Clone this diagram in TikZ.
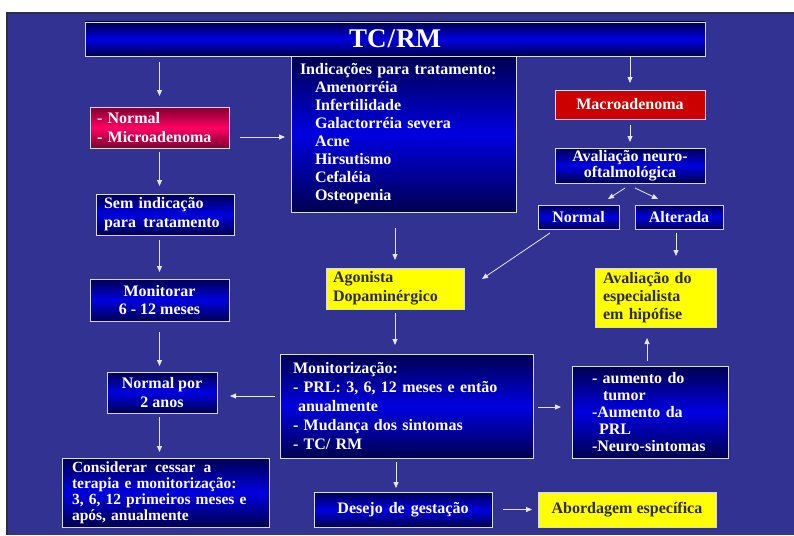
\documentclass[tikz,border=0pt]{standalone}
\usepackage{fontspec}
\setmainfont{Liberation Serif}
\usetikzlibrary{arrows.meta,calc}
\definecolor{slide}{RGB}{50,50,146}
\definecolor{slideedge}{RGB}{45,45,60}
\definecolor{navy}{RGB}{0,0,80}
\definecolor{royal}{RGB}{0,0,225}
\definecolor{wine}{RGB}{125,0,45}
\definecolor{rose}{RGB}{255,0,100}
\definecolor{alert}{RGB}{204,0,0}
\definecolor{lemon}{RGB}{255,255,0}
\definecolor{ink}{RGB}{45,45,45}
\definecolor{rim}{RGB}{215,215,230}
\definecolor{wire}{RGB}{230,230,240}
\newcommand{\fsz}[2]{\fontsize{#1}{#2}\selectfont\bfseries}
\begin{document}
\begin{tikzpicture}[x=1pt,y=-1pt,
  card/.style={draw=rim, line width=0.8pt, inner sep=0pt, outer sep=0pt, text=white},
  bluecard/.style={card, top color=navy, bottom color=navy, middle color=royal},
  pinkcard/.style={card, top color=wine, bottom color=wine, middle color=rose},
  redcard/.style={card, fill=alert},
  yellowcard/.style={card, fill=lemon, text=ink},
  dims/.style 2 args={minimum width=#1pt, minimum height=#2pt},
  arr/.style={draw=wire, line width=0.8pt, -{Triangle[length=6pt,width=5pt]}},
]
% slide background
\path[use as bounding box] (0,0) rectangle (794,535);
\fill[white] (0,0) rectangle (794,535);
\fill[slide] (7,13) rectangle (794,535);
\draw[slideedge, line width=1.5pt] (7,535) -- (7,13) -- (794,13);

% boxes
\node[bluecard, dims={620}{34}, font=\fsz{27}{30}] (title) at (395,39) {TC\kern1pt/\kern1ptRM};
\node[bluecard, dims={225}{156}, text width=207pt, align=left, font=\fsz{16}{18}] (ind) at (403.5,134)
  {Indicações para tratamento:\\
   \hspace*{15pt}Amenorréia\\
   \hspace*{15pt}Infertilidade\\
   \hspace*{15pt}Galactorréia\ severa\\
   \hspace*{15pt}Acne\\
   \hspace*{15pt}Hirsutismo\\
   \hspace*{15pt}Cefaléia\\
   \hspace*{15pt}Osteopenia};
\node[pinkcard, dims={139}{41}, text width=125pt, align=left, font=\fsz{16}{19}] (nm) at (159.5,127.5)
  {- Normal\\- Microadenoma};
\node[bluecard, dims={138}{41}, text width=122pt, align=left, font=\fsz{16}{19}] (sem) at (165,214.5)
  {Sem indicação\\para\kern2pt{} tratamento};
\node[bluecard, dims={139}{42}, align=center, font=\fsz{16}{18}] (mon) at (159.5,300)
  {Monitorar\\6 - 12 meses};
\node[bluecard, dims={110}{41}, align=center, font=\fsz{16}{19}] (np) at (162,392.5)
  {Normal por\\2 anos};
\node[bluecard, dims={207}{69}, text width=187pt, align=left, font=\fsz{15.5}{16}] (cons) at (165.5,492.5)
  {Considerar\kern3pt{} cessar\kern3pt{} a\\terapia e monitorização:\\3, 6, 12 primeiros meses e\\após, anualmente};
\node[redcard, dims={150}{29}, font=\fsz{16}{18}] (mac) at (630,104.5) {Macroadenoma};
\node[bluecard, dims={150}{35}, align=center, font=\fsz{16}{16}] (aval) at (630,165.5)
  {Avaliação neuro-\\oftalmológica};
\node[bluecard, dims={81}{24}, font=\fsz{16}{18}] (nr) at (578.5,217) {Normal};
\node[bluecard, dims={88}{24}, font=\fsz{16}{18}] (alt) at (679,217) {Alterada};
\node[yellowcard, dims={138}{41}, text width=124pt, align=left, font=\fsz{16}{19}] (ago) at (395,288.5)
  {Agonista\\Dopaminérgico};
\node[yellowcard, dims={121}{59}, text width=105pt, align=left, font=\fsz{16}{18}] (esp) at (655.5,297.5)
  {Avaliação do\\especialista\\em hipófise};
\node[bluecard, dims={253}{104}, text width=227pt, align=left, font=\fsz{16}{19}] (moni) at (406.5,406)
  {Monitorização:\\
   - PRL: 3, 6, 12 meses e então\\
   \hspace*{5pt}anualmente\\
   - Mudança dos sintomas\\
   - TC/ RM};
\node[bluecard, dims={156}{92}, text width=116pt, align=left, font=\fsz{16}{17}] (aum) at (650,412)
  {- aumento do\\
   \hspace*{11pt}tumor\\
   -Aumento da\\
   \hspace*{7pt}PRL\\
   -Neuro-sintomas};
\node[bluecard, dims={178}{35}, font=\fsz{16}{18}] (des) at (403,509.5) {Desejo\kern2pt{} de\kern2pt{} gestação};
\node[yellowcard, dims={178}{35}, font=\fsz{16}{18}] (abo) at (627,509.5) {Abordagem específica};

% connectors
\draw[arr, shorten <=6pt, shorten >=11pt] (title.south -| nm.north) -- (nm.north);
\draw[arr, shorten <=4pt, shorten >=8pt] (nm.south) -- (nm.south |- sem.north);
\draw[arr, shorten <=5pt, shorten >=7pt] (sem.south -| nm.south) -- (nm.south |- mon.north);
\draw[arr, shorten <=11pt, shorten >=6pt] (mon.south) -- (mon.south |- np.north);
\draw[arr, shorten <=4pt, shorten >=6pt] (np.south -| mon.south) -- (mon.south |- cons.north);
\draw[arr, shorten <=11pt, shorten >=6pt] ([yshift=-9.5pt]nm.east) -- ([yshift=-9.5pt]nm.east -| ind.west);
\draw[arr, shorten <=1pt, shorten >=7pt] (title.south -| mac.north) -- (mac.north);
\draw[arr, shorten <=6pt, shorten >=6pt] (mac.south) -- (aval.north);
\draw[arr] ($(aval.south)+(-5,5)$) -- ($(nr.north)+(29.5,-6)$);
\draw[arr] ($(aval.south)+(5,5)$) -- ($(alt.north)+(-21,-6)$);
\draw[arr, shorten <=4pt, shorten >=12pt] ([xshift=-3pt]alt.south) -- ([xshift=-3pt]alt.south |- esp.north);
\draw[arr] ($(nr.south)+(-28.5,4)$) -- ($(ago.north east)+(18,11)$);
\draw[arr, shorten <=16pt, shorten >=8pt] (ind.south -| ago.north) -- (ago.north);
\draw[arr, shorten <=4pt, shorten >=9pt] (ago.south) -- (ago.south |- moni.north);
\draw[arr, shorten <=5pt, shorten >=13pt] ([yshift=10pt]moni.west) -- ([yshift=10pt]moni.west -| np.east);
\draw[arr, shorten <=5pt, shorten >=11pt] ([yshift=-1pt]moni.east) -- ([yshift=-1pt]moni.east -| aum.west);
\draw[arr, shorten <=5pt, shorten >=11pt] ([xshift=-3pt]aum.north) -- ([xshift=-3pt]aum.north |- esp.south);
\draw[arr, shorten <=4pt, shorten >=4pt] ([xshift=-10.5pt]moni.south) -- ([xshift=-10.5pt]moni.south |- des.north);
\draw[arr, shorten <=11pt, shorten >=6pt] (des.east) -- (abo.west);
\end{tikzpicture}
\end{document}
